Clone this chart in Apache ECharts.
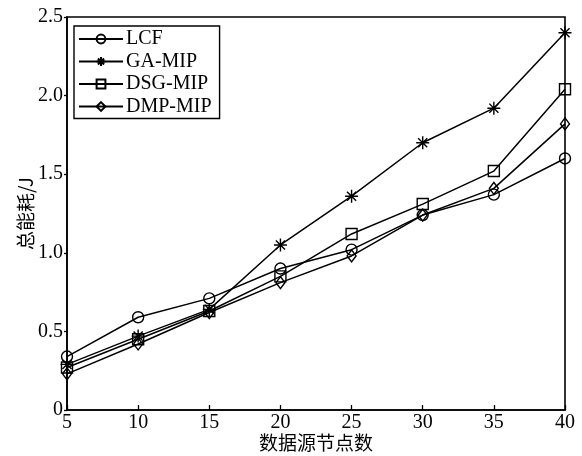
<!DOCTYPE html>
<html>
<head>
<meta charset="utf-8">
<script src="https://cdn.jsdelivr.net/npm/echarts@6/dist/echarts.min.js"></script>
<style>
  html, body { margin: 0; padding: 0; background: #fff; }
  #chart { width: 582px; height: 456px; }
</style>
</head>
<body>
<div id="chart"></div>
<script>
  const nodeCounts = [5, 10, 15, 20, 25, 30, 35, 40];
  const lcf = [0.34, 0.59, 0.71, 0.90, 1.02, 1.24, 1.37, 1.60];
  const gaMip = [0.29, 0.47, 0.64, 1.05, 1.36, 1.70, 1.92, 2.40];
  const dsgMip = [0.27, 0.45, 0.63, 0.85, 1.12, 1.31, 1.52, 2.04];
  const dmpMip = [0.23, 0.42, 0.62, 0.81, 0.98, 1.24, 1.41, 1.82];
  const seriesNames = ['LCF', 'GA-MIP', 'DSG-MIP', 'DMP-MIP'];

  const serif = '"Liberation Serif", "DejaVu Serif", serif';
  const cjk = '"Noto Sans CJK SC", sans-serif';
  const asterisk = 'path://M0,-6L0,6M-6,0L6,0M-4.2,-4.2L4.2,4.2M-4.2,4.2L4.2,-4.2';

  const symbols = ['circle', asterisk, 'rect', 'diamond'];
  const sizes = [11, 13, 11, [9, 12]];
  const values = [lcf, gaMip, dsgMip, dmpMip];

  const chart = echarts.init(document.getElementById('chart'), null, { renderer: 'canvas' });

  const series = seriesNames.map((name, i) => ({
    name,
    type: 'line',
    data: nodeCounts.map((x, j) => [x, values[i][j]]),
    symbol: symbols[i],
    symbolSize: sizes[i],
    showAllSymbol: true,
    lineStyle: { color: '#000', width: 1.5 },
    itemStyle: { color: 'rgba(255,255,255,0)', borderColor: '#000', borderWidth: 1.4 },
    emphasis: { disabled: true },
    z: 2
  }));

  chart.setOption({
    animation: false,
    backgroundColor: '#fff',
    grid: {
      left: 67, right: 17, top: 17, bottom: 46,
      outerBoundsMode: 'none', containLabel: false,
      show: true, borderColor: '#000', borderWidth: 1.6
    },
    legend: {
      left: 74,
      top: 26,
      orient: 'vertical',
      itemWidth: 44,
      itemHeight: 11,
      itemGap: 2.5,
      padding: [3, 8, 2, 4],
      backgroundColor: '#fff',
      borderColor: '#000',
      borderWidth: 1.4,
      textStyle: { fontFamily: serif, fontSize: 20, color: '#000', padding: [0, 0, 0, -2] },
      data: seriesNames
    },
    xAxis: {
      type: 'value',
      min: 5,
      max: 40,
      interval: 5,
      name: '数据源节点数',
      nameLocation: 'middle',
      nameGap: 23,
      nameMoveOverlap: false,
      nameTextStyle: { fontFamily: cjk, fontSize: 19, color: '#000' },
      axisLine: { lineStyle: { color: '#000', width: 1.6 } },
      axisTick: { inside: true, length: 5, lineStyle: { color: '#000', width: 1.3 } },
      splitLine: { show: false },
      axisLabel: { fontFamily: serif, fontSize: 20, color: '#000', margin: 3 }
    },
    yAxis: {
      type: 'value',
      min: 0,
      max: 2.5,
      interval: 0.5,
      name: '总能耗/J',
      nameLocation: 'middle',
      nameGap: 32,
      nameMoveOverlap: false,
      nameTextStyle: { fontFamily: cjk, fontSize: 19, color: '#000' },
      axisLine: { lineStyle: { color: '#000', width: 1.6 } },
      axisTick: { inside: false, length: 3, lineStyle: { color: '#000', width: 1.3 } },
      splitLine: { show: false },
      axisLabel: {
        fontFamily: serif, fontSize: 20, color: '#000', margin: 4,
        formatter: (v) => (v === 0 ? '0' : v.toFixed(1))
      }
    },
    series
  });
</script>
</body>
</html>
